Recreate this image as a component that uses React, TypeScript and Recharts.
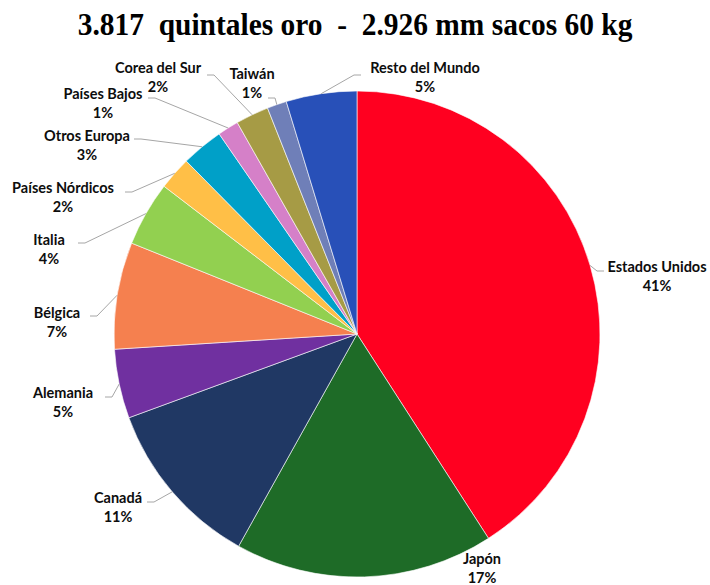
import React from "react";
import { PieChart, Pie, Cell } from "recharts";

const countries = [
  "Estados Unidos",
  "Japón",
  "Canadá",
  "Alemania",
  "Bélgica",
  "Italia",
  "Países Nórdicos",
  "Otros Europa",
  "Países Bajos",
  "Corea del Sur",
  "Taiwán",
  "Resto del Mundo",
];

// share of exports, %
const shares = [40.9, 17.2, 11.3, 4.6, 7.1, 4.3, 2.2, 2.8, 1.4, 2.2, 1.3, 4.7];

const colors = [
  "#FF0020",
  "#1E6B27",
  "#203864",
  "#7030A0",
  "#F5804F",
  "#92D050",
  "#FFBF47",
  "#00A0C8",
  "#D580C8",
  "#A69B45",
  "#6F7FB8",
  "#2850B8",
];

// label layout, offsets from pie centre: text centre (tx, ty), leader end (ex, ey)
const labelLayout = [
  { tx: 300, ty: -68, ex: 247, ey: -63 },
  { tx: 125, ty: 224, ex: null, ey: null },
  { tx: -239, ty: 163, ex: -210, ey: 168 },
  { tx: -294, ty: 58, ex: -252, ey: 63 },
  { tx: -300, ty: -22, ex: -267, ey: -18 },
  { tx: -308, ty: -95, ex: -279, ey: -91 },
  { tx: -294, ty: -147, ex: -232, ey: -142 },
  { tx: -270, ty: -199, ex: -223, ey: -195 },
  { tx: -254, ty: -241, ex: -209, ey: -236 },
  { tx: -199, ty: -267, ex: -150, ey: -259 },
  { tx: -105, ty: -261, ex: -89, ey: -236 },
  { tx: 68, ty: -267, ex: 4, ey: -259 },
];

const data = countries.map((name, i) => ({ name, value: shares[i] }));

const RAD = Math.PI / 180;

const renderLabel = (props: any) => {
  const { cx, cy, midAngle, outerRadius, index, name, percent } = props;
  const l = labelLayout[index];
  const x = cx + l.tx;
  const y = cy + l.ty;
  let line = null;
  if (l.ex !== null) {
    const sx = cx + outerRadius * Math.cos(-midAngle * RAD);
    const sy = cy + outerRadius * Math.sin(-midAngle * RAD);
    const exA = cx + l.ex;
    const eyA = cy + l.ey;
    const dir = Math.sign(sx - exA) || 1;
    const kx = exA + dir * 7;
    line = (
      <polyline
        points={`${sx},${sy} ${kx},${eyA} ${exA},${eyA}`}
        fill="none"
        stroke="#A6A6A6"
        strokeWidth={1}
      />
    );
  }
  return (
    <g key={`lbl-${index}`}>
      {line}
      <text
        x={x}
        y={y}
        textAnchor="middle"
        dominantBaseline="central"
        fontFamily="Lato, sans-serif"
        fontWeight={700}
        fontSize={14.5}
        fill="#0d0d0d"
      >
        {name}
      </text>
      <text
        x={x}
        y={y + 19}
        textAnchor="middle"
        dominantBaseline="central"
        fontFamily="Lato, sans-serif"
        fontWeight={700}
        fontSize={14.5}
        fill="#0d0d0d"
      >
        {`${Math.round(percent * 100)}%`}
      </text>
    </g>
  );
};

export default function App() {
  return (
    <div
      style={{
        position: "absolute",
        left: 0,
        top: 0,
        width: 710,
        height: 585,
        background: "#fff",
      }}
    >
      <div
        style={{
          position: "absolute",
          top: 9,
          left: 0,
          width: 710,
          textAlign: "center",
          whiteSpace: "pre",
          fontFamily: "'Liberation Serif', 'Times New Roman', serif",
          fontWeight: 700,
          fontSize: 30.5,
          lineHeight: "32px",
          color: "#000",
          transform: "scaleX(0.965)",
          transformOrigin: "357px 0",
        }}
      >
        {"3.817  quintales oro  -  2.926 mm sacos 60 kg"}
      </div>
      <PieChart
        width={710}
        height={585}
        margin={{ top: 0, right: 0, bottom: 0, left: 0 }}
        style={{ position: "absolute", left: 0, top: 0 }}
      >
        <Pie
          data={data}
          dataKey="value"
          nameKey="name"
          cx={357}
          cy={334}
          outerRadius={243}
          startAngle={90}
          endAngle={-270}
          stroke="#fff"
          strokeWidth={0.6}
          label={renderLabel}
          labelLine={false}
          isAnimationActive={false}
        >
          {data.map((d, i) => (
            <Cell key={d.name} fill={colors[i]} />
          ))}
        </Pie>
      </PieChart>
    </div>
  );
}
